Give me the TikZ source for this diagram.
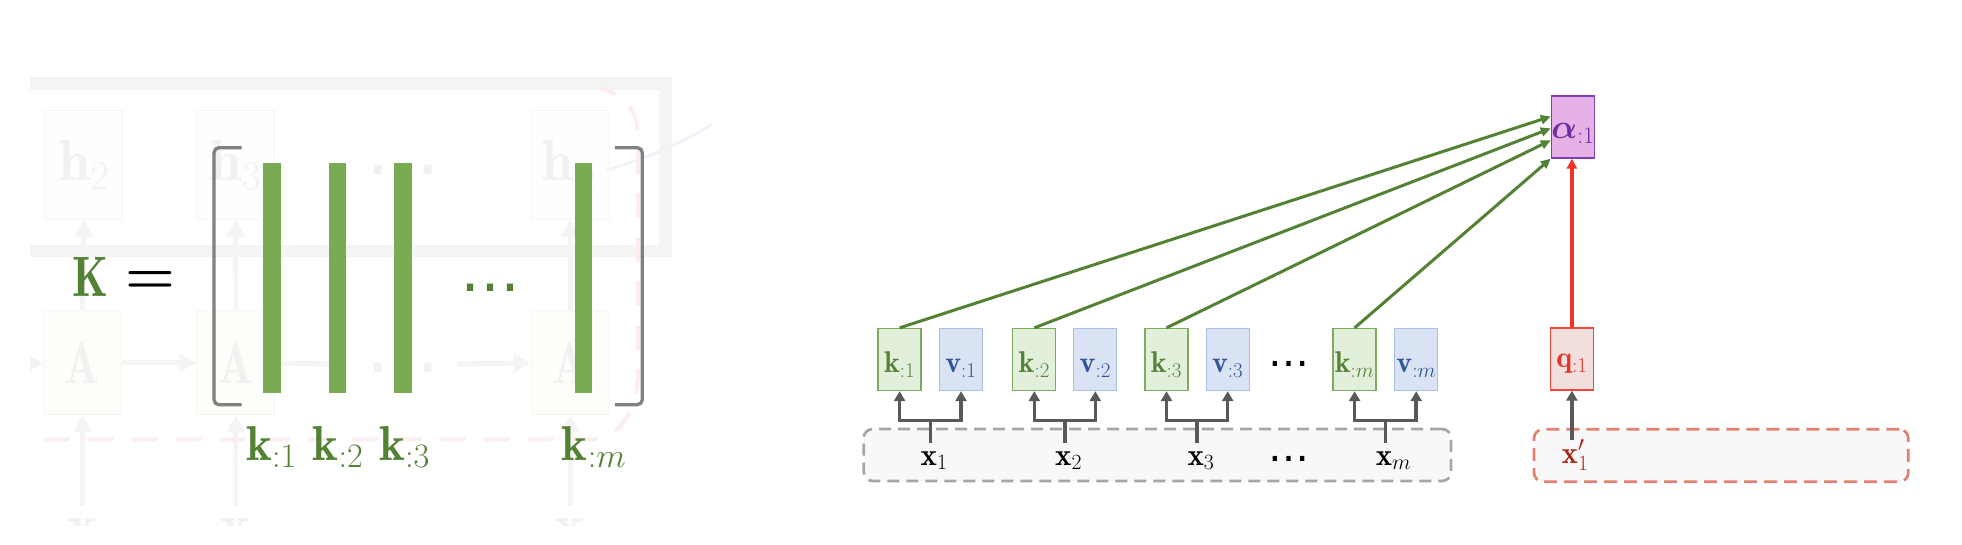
\RequirePackage{fix-cm}
\documentclass[tikz,border=0pt]{standalone}
\usepackage{fontspec}
\usepackage{amsmath}
\usepackage{bm}
\usepackage{graphicx}
\usetikzlibrary{arrows.meta,calc}
\newfontfamily\dejavu{DejaVu Sans}
\definecolor{kgreen}{HTML}{548235}
\definecolor{bargreen}{HTML}{79AC52}
\definecolor{kfill}{HTML}{E2EFDA}
\definecolor{kborder}{HTML}{7FAA62}
\definecolor{vfill}{HTML}{DAE3F3}
\definecolor{vborder}{HTML}{A9BFEA}
\definecolor{vtext}{HTML}{2F5597}
\definecolor{afill}{HTML}{E6B1E6}
\definecolor{aborder}{HTML}{7F3FB0}
\definecolor{atext}{HTML}{7030A0}
\definecolor{qfill}{HTML}{F2DEDC}
\definecolor{qborder}{HTML}{F2473A}
\definecolor{qtext}{HTML}{E2352A}
\definecolor{redarrow}{HTML}{EF3526}
\definecolor{darrow}{HTML}{595959}
\definecolor{dashgrey}{HTML}{A6A6A6}
\definecolor{dashred}{HTML}{E08272}
\definecolor{xqtext}{HTML}{A8281C}
\definecolor{brkgrey}{HTML}{808080}
\definecolor{boxfill}{HTML}{F8F8F8}
\definecolor{ghostband}{HTML}{F4F4F2}
\definecolor{ghostedge}{HTML}{F3F7F3}
\definecolor{ghosttext}{HTML}{F1F1F1}
\definecolor{ghosthfill}{HTML}{FDFEFD}
\definecolor{ghostAfill}{HTML}{FDFDF9}
\definecolor{ghostarr}{HTML}{F4F4F4}
\definecolor{pinkdash}{HTML}{FDEDED}
\definecolor{ghostblue}{HTML}{F1F3FB}
\tikzset{
  gband/.style={draw=ghostband, line width=12.5pt},
  gbox/.style={draw=ghostedge, line width=1pt, fill=ghosthfill, minimum width=78pt, minimum height=109pt, inner sep=0pt, text=ghosttext, font=\fontsize{58}{58}\selectfont},
  gabox/.style={gbox, fill=ghostAfill, minimum height=104pt},
  garr/.style={draw=ghostarr, line width=5pt, -{Triangle[length=17pt,width=18pt]}},
  gline/.style={draw=ghostarr, line width=5pt},
  gdots/.style={anchor=base, inner sep=0pt, text=ghosttext, font=\dejavu\fontsize{75}{75}\selectfont},
  gxlab/.style={anchor=base, inner xsep=0pt, inner ysep=12pt, text=ghosttext, font=\fontsize{58}{58}\selectfont},
  pdash/.style={draw=pinkdash, line width=4pt, dash pattern=on 25pt off 19pt},
  bar/.style={fill=bargreen, minimum width=17.4pt, minimum height=230.6pt, inner sep=0pt},
  brk/.style={draw=brkgrey, line width=3.3pt, rounded corners=5pt},
  biglab/.style={anchor=base west, inner sep=0pt, text=kgreen, font=\fontsize{49}{49}\selectfont},
  kbox/.style={draw=kborder, fill=kfill, line width=1.3pt, minimum width=43pt, minimum height=62pt, inner sep=0pt, text height=26pt, text depth=0pt, text=kgreen, font=\fontsize{30}{30}\selectfont},
  vbox/.style={kbox, draw=vborder, fill=vfill, text=vtext},
  abox/.style={kbox, draw=aborder, fill=afill, text=atext, text height=23pt, font=\fontsize{34}{34}\selectfont},
  qbox/.style={kbox, draw=qborder, fill=qfill, text=qtext, text height=17pt},
  xlab/.style={anchor=base west, inner xsep=0pt, inner ysep=8pt, font=\fontsize{31}{31}\selectfont},
  xqlab/.style={anchor=base west, inner sep=0pt, text=xqtext, font=\fontsize{31}{31}\selectfont},
  dotsr/.style={anchor=base, inner sep=0pt, font=\dejavu\fontsize{41}{41}\selectfont},
  grparrow/.style={draw=darrow, line width=3.5pt, -{Triangle[length=10pt,width=11pt]}},
  grnarrow/.style={draw=kgreen, line width=3pt, -{Triangle[length=10pt,width=9pt]}},
  redarr/.style={draw=redarrow, line width=3.5pt, -{Triangle[length=10pt,width=10pt]}},
  xgrp/.style={draw=dashgrey, fill=boxfill, line width=2.7pt, dash pattern=on 12pt off 7pt, rounded corners=9pt, inner sep=0pt},
  qgrp/.style={xgrp, draw=dashred, dash pattern=on 13pt off 7pt}
}
\begin{document}
\begin{tikzpicture}[x=1pt,y=-1pt]
\useasboundingbox (0,0) rectangle (1962,544);

% ---------------- faded background picture ----------------
\begin{scope}
\clip (30,60) rectangle (720,525);
\draw[gband] (20,83.6) -- (665.5,83.6) -- (665.5,251.2) -- (20,251.2);
\node[gbox] (gh2) at (83.9,164.7) {$\mathbf{h}_2$};
\node[gbox] (gh3) at (235.5,164.7) {$\mathbf{h}_3$};
\node[gbox] (ghn) at (570.2,164.7) {$\mathbf{h}_n$};
\node[gabox] (gA1) at (82.5,362.9) {\scalebox{0.8}[1]{$\mathbf{A}$}};
\node[gabox] (gA2) at (235.9,362.9) {\scalebox{0.8}[1]{$\mathbf{A}$}};
\node[gabox] (gAm) at (570.2,362.9) {\scalebox{0.8}[1]{$\mathbf{A}$}};
\node[gdots] (gd1) at (403,174.5) {…};
\node[gdots] (gd2) at (403,372.5) {…};
\node[gxlab] (gx1) at (82.5,544) {$\mathbf{x}$};
\node[gxlab] (gx2) at (235.9,544) {$\mathbf{x}$};
\node[gxlab] (gxm) at (570.2,544) {$\mathbf{x}$};
\coordinate (gin) at (20,364);
\coordinate (gmid) at (330,364);
\coordinate (gfrom) at (456.7,364);
\draw[garr] (gin) -- (gA1.west);
\draw[garr] (gA1.east) -- (gA2.west);
\draw[gline] (gA2.east) -- (gmid);
\draw[garr] (gfrom) -- (gAm.west);
\draw[garr] (gA1.north) -- (gh2.south);
\draw[garr] (gA2.north) -- (gh3.south);
\draw[garr] (gAm.north) -- (ghn.south);
\draw[garr] (gx1.north) -- (gA1.south);
\draw[garr] (gx2.north) -- (gA2.south);
\draw[garr] (gxm.north) -- (gAm.south);
\draw[pdash] (44.3,439.3) -- (598,439.3) .. controls (625,432) and (638,405) .. (638,370) -- (638,140) .. controls (638,115) and (630,96) .. (600,88);
\draw[draw=ghostblue, line width=3pt] (607,170) .. controls (640,160) and (680,145) .. (712,124);
\end{scope}

% ---------------- matrix K ----------------
\node[anchor=base west, inner sep=0pt, text=kgreen, font=\fontsize{57}{57}\selectfont] (K) at (72.5,296.5) {\scalebox{0.8}[1]{$\mathbf{K}$}};
\node[anchor=base, inner sep=0pt, font=\fontsize{57}{57}\selectfont] (eq) at (150,293.3) {$\bm{=}$};
\draw[brk] (241.7,147.7) -- (214,147.7) -- (214,404.7) -- (241.7,404.7);
\draw[brk] (615,147.7) -- (642.3,147.7) -- (642.3,404.7) -- (615,404.7);
\node[bar] (b1) at (272,278) {};
\node[bar] (b2) at (337.65,278) {};
\node[bar] (b3) at (403,278) {};
\node[bar] (b4) at (583.65,278) {};
\node[anchor=base, inner sep=0pt, text=kgreen, font=\dejavu\fontsize{60}{60}\selectfont] (kdots) at (490.7,291.6) {…};
\node[biglab] (l1) at (246,460) {$\mathbf{k}_{:1}$};
\node[biglab] (l2) at (312.5,460) {$\mathbf{k}_{:2}$};
\node[biglab] (l3) at (379,460) {$\mathbf{k}_{:3}$};
\node[biglab] (lm) at (561.7,460) {$\mathbf{k}_{:m}$};

% ---------------- attention diagram ----------------
\node[xgrp, minimum width=587.3pt, minimum height=52pt] (xg) at (1157.35,455) {};
\node[qgrp, minimum width=374.3pt, minimum height=52.4pt] (qg) at (1721.15,455.5) {};

\node[kbox] (k1) at (899.6,359.5) {$\mathbf{k}_{:1}$};
\node[vbox] (v1) at (961,359.5) {$\mathbf{v}_{:1}$};
\node[kbox] (k2) at (1034.3,359.5) {$\mathbf{k}_{:2}$};
\node[vbox] (v2) at (1095.3,359.5) {$\mathbf{v}_{:2}$};
\node[kbox] (k3) at (1166.5,359.5) {$\mathbf{k}_{:3}$};
\node[vbox] (v3) at (1227.7,359.5) {$\mathbf{v}_{:3}$};
\node[dotsr] (dk) at (1288.8,366.2) {…};
\node[kbox] (km) at (1354.6,359.5) {$\mathbf{k}_{:m}$};
\node[vbox] (vm) at (1416.2,359.5) {$\mathbf{v}_{:m}$};
\node[abox] (alpha) at (1573,127) {$\bm{\alpha}_{:1}$};
\node[qbox] (q) at (1571.85,359) {$\mathbf{q}_{:1}$};

\node[xlab] (x1) at (920.5,465) {$\mathbf{x}_1$};
\node[xlab] (x2) at (1055,465) {$\mathbf{x}_2$};
\node[xlab] (x3) at (1187.3,465) {$\mathbf{x}_3$};
\node[dotsr] (dx) at (1288.8,461.9) {…};
\node[xlab] (xm) at (1375.6,465) {$\mathbf{x}_m$};
\node[xqlab] (xq) at (1561.5,463) {$\mathbf{x}'_1$};

\coordinate (s1) at ($(k1.south)!0.5!(v1.south)+(0,29.5)$);
\coordinate (s2) at ($(k2.south)!0.5!(v2.south)+(0,29.5)$);
\coordinate (s3) at ($(k3.south)!0.5!(v3.south)+(0,29.5)$);
\coordinate (sm) at ($(km.south)!0.5!(vm.south)+(0,29.5)$);

\draw[grparrow] (x1.north -| s1) -- (s1) -| (k1.south);
\draw[grparrow] (s1) -| (v1.south);
\draw[grparrow] (x2.north -| s2) -- (s2) -| (k2.south);
\draw[grparrow] (s2) -| (v2.south);
\draw[grparrow] (x3.north -| s3) -- (s3) -| (k3.south);
\draw[grparrow] (s3) -| (v3.south);
\draw[grparrow] (xm.north -| sm) -- (sm) -| (km.south);
\draw[grparrow] (sm) -| (vm.south);
\draw[grparrow] (xq.north -| q.south) -- (q.south);

\draw[grnarrow] (k1.north) -- ($(alpha.north west)!0.334!(alpha.south west)$);
\draw[grnarrow] (k2.north) -- ($(alpha.north west)!0.521!(alpha.south west)$);
\draw[grnarrow] (k3.north) -- ($(alpha.north west)!0.71!(alpha.south west)$);
\draw[grnarrow] (km.north) -- (alpha.south west);
\draw[redarr] (q.north) -- (q.north |- alpha.south);
\end{tikzpicture}
\end{document}
